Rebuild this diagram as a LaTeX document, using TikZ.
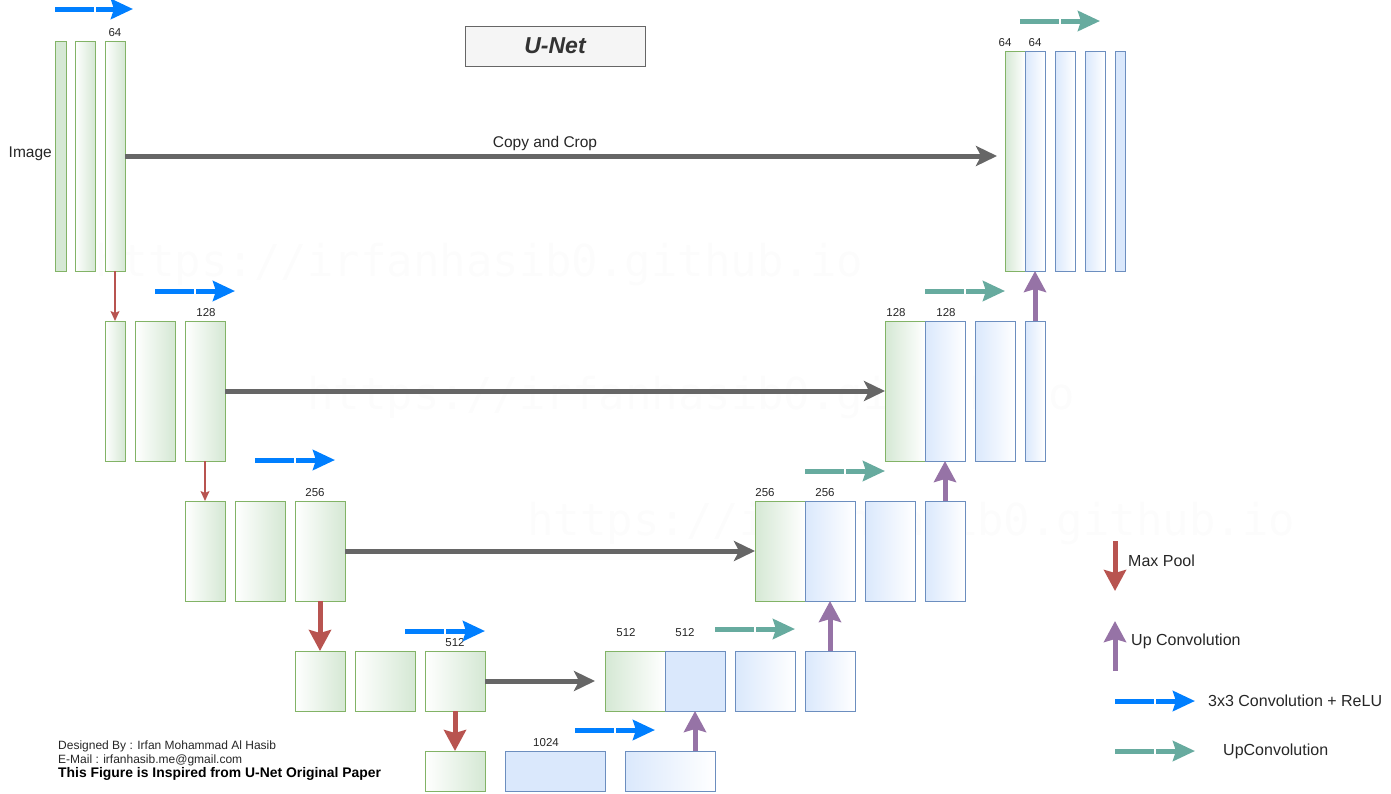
\documentclass[tikz,border=0pt]{standalone}
\usepackage{fontspec}
\setmainfont{Liberation Sans}
\newfontfamily\wmfont{DejaVu Sans Mono}
\usetikzlibrary{arrows.meta}
\definecolor{gfill}{HTML}{D5E8D4}
\definecolor{bfill}{HTML}{DAE8FC}
\definecolor{gline}{HTML}{82B366}
\definecolor{bline}{HTML}{6C8EBF}
\definecolor{poolc}{HTML}{B85450}
\definecolor{upc}{HTML}{9673A6}
\definecolor{convc}{HTML}{007FFF}
\definecolor{teal2}{HTML}{67AB9F}
\definecolor{copyc}{HTML}{666666}
\definecolor{titlefill}{HTML}{F5F5F5}
\definecolor{titletext}{HTML}{333333}
\definecolor{wmc}{HTML}{FCFCFC}
\newcommand{\blk}[6]{\node[#2, minimum width={(#5-#3)*1pt}, minimum height={(#6-#4)*1pt}, anchor=north west] (#1) at (#3,#4) {};}
\newcommand{\flowarr}[4]{%
  \draw[#3, line width=5pt] (#1,#2) -- (#1+39,#2);
  \draw[#3, line width=5pt, -{Stealth[length=22pt,width=20pt,inset=3pt]}] (#1+41,#2) -- (#1+#4,#2);}
\tikzset{
  boxbase/.style={inner sep=0pt, outer sep=0pt, line width=1pt},
  encg/.style={boxbase, draw=gline, left color=white, right color=gfill},
  encs/.style={boxbase, draw=gline, fill=gfill},
  decg/.style={boxbase, draw=gline, left color=gfill, right color=white},
  decb/.style={boxbase, draw=bline, left color=bfill, right color=white},
  decs/.style={boxbase, draw=bline, fill=bfill},
  lbl/.style={inner sep=0pt, anchor=base, font=\fontsize{11.5}{12}\selectfont, text=black!85},
  copyarrow/.style={draw=copyc, line width=5pt, -{Stealth[length=21pt,width=20pt,inset=5pt]}},
  poolthin/.style={draw=poolc, line width=1.5pt, -{Stealth[length=10pt,width=9pt,inset=2pt]}},
  poolthick/.style={draw=poolc, line width=5pt, -{Stealth[length=21pt,width=22pt,inset=3pt]}},
  uparrow/.style={draw=upc, line width=5pt, -{Stealth[length=21pt,width=22pt,inset=3pt]}},
  wm/.style={inner sep=0pt, anchor=base west, text=wmc, font=\wmfont\fontsize{44}{44}\selectfont},
  txt/.style={inner sep=0pt, font=\fontsize{15.5}{16}\selectfont, text=black!85},
  lgtxt/.style={txt, font=\fontsize{16}{16}\selectfont},
  foot/.style={inner sep=0pt, anchor=base west, font=\fontsize{12}{12}\selectfont, text=black!85},
}
\begin{document}
\begin{tikzpicture}[x=1pt,y=-1pt]
\useasboundingbox (0,0) rectangle (1391,793);
% watermark
\node[wm] (wm1) at (95,276) {https://irfanhasib0.github.io};
\node[wm] (wm2) at (307,409) {https://irfanhasib0.github.io};
\node[wm] (wm3) at (527,535) {https://irfanhasib0.github.io};
% title
\node[draw=copyc, fill=titlefill, line width=1pt, minimum width=180pt, minimum height=40pt, inner sep=0pt,
      text=titletext, font=\fontsize{23}{23}\selectfont\bfseries\itshape] (title) at (555,46) {U-Net};
% encoder level 1
\blk{A1}{encs}{55}{41}{66}{271}
\blk{A2}{encg}{75}{41}{95}{271}
\blk{A3}{encg}{105}{41}{125}{271}
% encoder level 2
\blk{B1}{encg}{105}{321}{125}{461}
\blk{B2}{encg}{135}{321}{175}{461}
\blk{B3}{encg}{185}{321}{225}{461}
% encoder level 3
\blk{C1}{encg}{185}{501}{225}{601}
\blk{C2}{encg}{235}{501}{285}{601}
\blk{C3}{encg}{295}{501}{345}{601}
% encoder level 4
\blk{D1}{encg}{295}{651}{345}{711}
\blk{D2}{encg}{355}{651}{415}{711}
\blk{D3}{encg}{425}{651}{485}{711}
% bottom
\blk{E1}{encg}{425}{751}{485}{791}
\blk{E2}{decs}{505}{751}{605}{791}
\blk{E3}{decb}{625}{751}{715}{791}
% decoder level 4
\blk{F1}{decg}{605}{651}{665}{711}
\blk{F2}{decs}{665}{651}{725}{711}
\blk{F3}{decb}{735}{651}{795}{711}
\blk{F4}{decb}{805}{651}{855}{711}
% decoder level 3
\blk{G1}{decg}{755}{501}{805}{601}
\blk{G2}{decb}{805}{501}{855}{601}
\blk{G3}{decb}{865}{501}{915}{601}
\blk{G4}{decb}{925}{501}{965}{601}
% decoder level 2
\blk{H1}{decg}{885}{321}{925}{461}
\blk{H2}{decb}{925}{321}{965}{461}
\blk{H3}{decb}{975}{321}{1015}{461}
\blk{H4}{decb}{1025}{321}{1045}{461}
% decoder level 1
\blk{I1}{decg}{1005}{51}{1025}{271}
\blk{I2}{decb}{1025}{51}{1045}{271}
\blk{I3}{decb}{1055}{51}{1075}{271}
\blk{I4}{decb}{1085}{51}{1105}{271}
\blk{I5}{decs}{1115}{51}{1125}{271}
% labels
\node[lbl] (l64a) at (115,36) {64};
\node[lbl] (l128a) at (206,316) {128};
\node[lbl] (l256a) at (315,496) {256};
\node[lbl] (l512a) at (455,646) {512};
\node[lbl] (l1024) at (546,746) {1024};
\node[lbl] (l512b) at (626,636) {512};
\node[lbl] (l512c) at (685,636) {512};
\node[lbl] (l256b) at (765,496) {256};
\node[lbl] (l256c) at (825,496) {256};
\node[lbl] (l128b) at (896,316) {128};
\node[lbl] (l128c) at (946,316) {128};
\node[lbl] (l64b) at (1005,46) {64};
\node[lbl] (l64c) at (1035,46) {64};
\node[txt, anchor=base east] (imglbl) at (52,157) {Image};
\node[txt, anchor=base] (copylbl) at (545,147) {Copy and Crop};
% copy and crop connectors
\draw[copyarrow, shorten >=8pt] (A3.east) -- (A3.east -| I1.west);
\draw[copyarrow] (B3.east) -- (H1.west);
\draw[copyarrow] (C3.east) -- (G1.west);
\draw[copyarrow, shorten >=10pt] (D3.east) -- (F1.west);
% max pool connectors
\draw[poolthin] (A3.south) -- (B1.north);
\draw[poolthin] (B3.south) -- (C1.north);
\draw[poolthick] (C3.south) -- (D1.north);
\draw[poolthick] (D3.south) -- (E1.north);
% up convolution connectors
\draw[uparrow] (F2.south |- E3.north) -- (F2.south);
\draw[uparrow] (F4.north) -- (G2.south);
\draw[uparrow] (G4.north) -- (H2.south);
\draw[uparrow] (H4.north) -- (I2.south);
% conv arrows
\flowarr{55}{9}{convc}{78}
\flowarr{155}{291}{convc}{80}
\flowarr{255}{460}{convc}{80}
\flowarr{405}{631}{convc}{80}
\flowarr{575}{730}{convc}{80}
% upconv arrows
\flowarr{1020}{21}{teal2}{80}
\flowarr{925}{291}{teal2}{80}
\flowarr{805}{471}{teal2}{80}
\flowarr{715}{629}{teal2}{80}
% legend
\coordinate (lgp1) at (1115,541);
\coordinate (lgp2) at (1115,591);
\draw[poolthick] (lgp1) -- (lgp2);
\node[lgtxt, anchor=west] (lgpt) at (1128,561) {Max Pool};
\coordinate (lgu1) at (1115,671);
\coordinate (lgu2) at (1115,621);
\draw[uparrow] (lgu1) -- (lgu2);
\node[lgtxt, anchor=west] (lgut) at (1131,641) {Up Convolution};
\flowarr{1115}{701}{convc}{80}
\node[lgtxt, anchor=west] (lgct) at (1208,701) {3x3 Convolution + ReLU};
\flowarr{1115}{751}{teal2}{80}
\node[lgtxt, anchor=west] (lgtt) at (1223,751) {UpConvolution};
% footer
\node[foot] (f1) at (58,749) {Designed By : Irfan Mohammad Al Hasib};
\node[foot] (f2) at (58,763) {E-Mail : irfanhasib.me@gmail.com};
\node[foot, font=\fontsize{13.9}{13}\selectfont\bfseries, text=black] (f3) at (58,777) {This Figure is Inspired from U-Net Original Paper};
\end{tikzpicture}
\end{document}
